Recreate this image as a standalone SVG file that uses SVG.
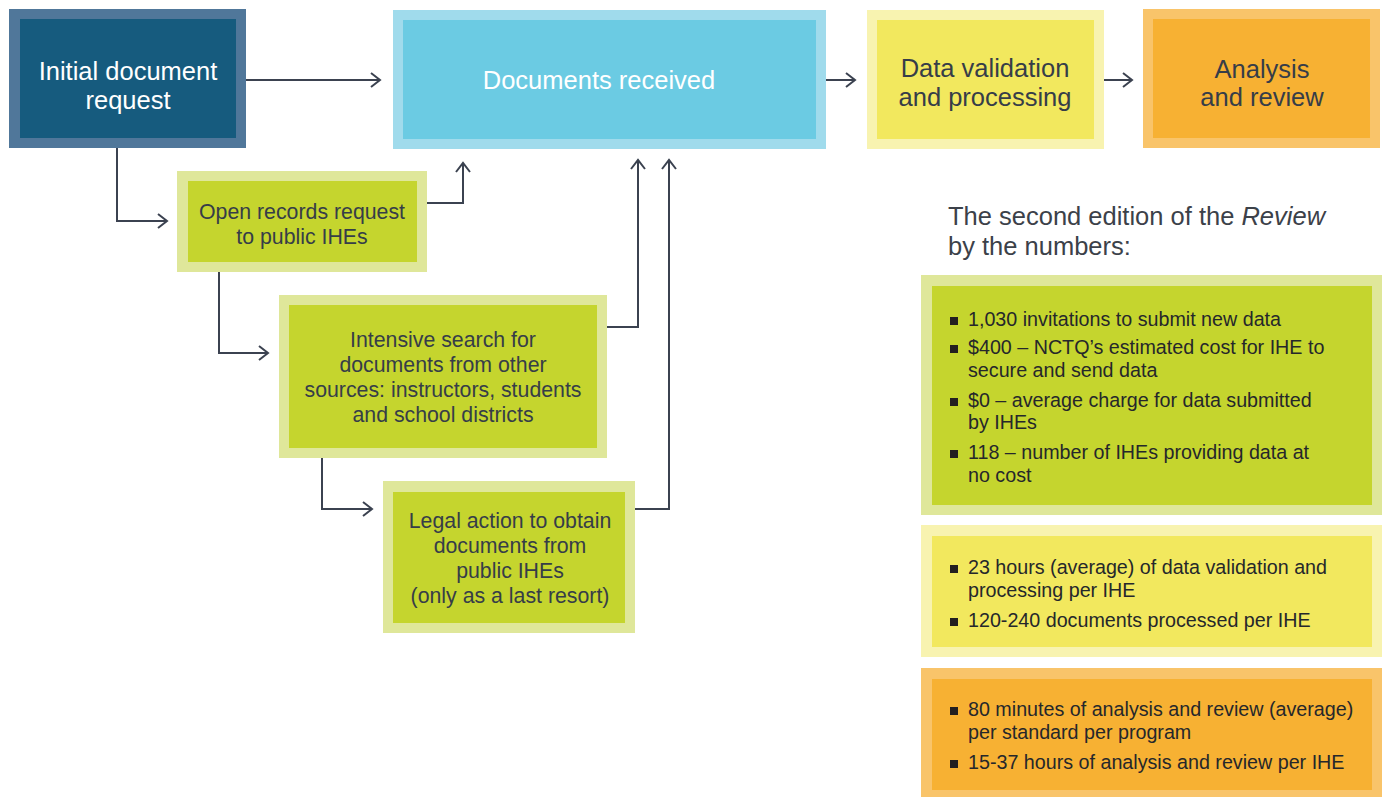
<svg xmlns="http://www.w3.org/2000/svg" width="1382" height="797" viewBox="0 0 1382 797">
<style>
text{font-family:"Liberation Sans",Arial,sans-serif;}
.big{font-size:25.5px;text-anchor:middle;}
.mid{font-size:21.3px;text-anchor:middle;fill:#363d48;}
.w{fill:#ffffff;}
.dk{fill:#363d48;}
.st{font-size:19.7px;fill:#25272b;}
.hd{font-size:25.5px;fill:#3c4149;}
.bul{fill:#231f20;}
.conn{fill:none;stroke:#3b4250;stroke-width:2;}
.gO{fill:#dfe79a;}.gI{fill:#c5d52e;}
.yO{fill:#f8f3b0;}.yI{fill:#f2e85e;}
.oO{fill:#f9c46a;}.oI{fill:#f7b133;}
</style>
<defs>
<marker id="arr" markerUnits="userSpaceOnUse" markerWidth="14" markerHeight="18" refX="10" refY="8" orient="auto">
<path d="M1,1 L10,8 L1,15" fill="none" stroke="#3b4250" stroke-width="2"/>
</marker>
</defs>
<rect width="1382" height="797" fill="#ffffff"/>

<g id="connectors">
<path class="conn" d="M246,80 H380" marker-end="url(#arr)"/>
<path class="conn" d="M826,80 H855" marker-end="url(#arr)"/>
<path class="conn" d="M1104,80 H1132" marker-end="url(#arr)"/>
<path class="conn" d="M117,148 V221 H167" marker-end="url(#arr)"/>
<path class="conn" d="M427,203 H463 V163" marker-end="url(#arr)"/>
<path class="conn" d="M219,272 V353 H268" marker-end="url(#arr)"/>
<path class="conn" d="M607,327 H638 V160" marker-end="url(#arr)"/>
<path class="conn" d="M322,458 V509 H372" marker-end="url(#arr)"/>
<path class="conn" d="M635,509 H669 V160" marker-end="url(#arr)"/>
</g>

<g id="initial-request">
<rect x="9" y="9" width="237" height="139" fill="#50779a"/>
<rect x="20" y="19" width="216" height="119" fill="#165b7e"/>
<text class="big w" x="128" y="80">Initial document</text>
<text class="big w" x="128" y="109">request</text>
</g>

<g id="documents-received">
<rect x="393" y="10" width="433" height="139" fill="#a0dbec"/>
<rect x="403" y="20" width="413" height="119" fill="#6bcbe3"/>
<text class="big w" x="599" y="89">Documents received</text>
</g>

<g id="data-validation">
<rect x="867" y="10" width="237" height="139" class="yO"/>
<rect x="877" y="20" width="217" height="119" class="yI"/>
<text class="big dk" x="985" y="77">Data validation</text>
<text class="big dk" x="985" y="106">and processing</text>
</g>

<g id="analysis-review">
<rect x="1143" y="9" width="237" height="139" class="oO"/>
<rect x="1153" y="19" width="217" height="119" class="oI"/>
<text class="big dk" x="1262" y="78">Analysis</text>
<text class="big dk" x="1262" y="106">and review</text>
</g>

<g id="open-records">
<rect x="177" y="171" width="250" height="101" class="gO"/>
<rect x="188" y="181" width="229" height="81" class="gI"/>
<text class="mid" x="302" y="219">Open records request</text>
<text class="mid" x="302" y="244">to public IHEs</text>
</g>

<g id="intensive-search">
<rect x="279" y="295" width="328" height="163" class="gO"/>
<rect x="289" y="305" width="308" height="143" class="gI"/>
<text class="mid" x="443" y="347">Intensive search for</text>
<text class="mid" x="443" y="372">documents from other</text>
<text class="mid" x="443" y="397">sources: instructors, students</text>
<text class="mid" x="443" y="422">and school districts</text>
</g>

<g id="legal-action">
<rect x="383" y="481" width="252" height="152" class="gO"/>
<rect x="393" y="492" width="232" height="131" class="gI"/>
<text class="mid" x="510" y="528">Legal action to obtain</text>
<text class="mid" x="510" y="553">documents from</text>
<text class="mid" x="510" y="578">public IHEs</text>
<text class="mid" x="510" y="603">(only as a last resort)</text>
</g>

<g id="stats-heading">
<text class="hd" x="948" y="225">The second edition of the <tspan font-style="italic">Review</tspan></text>
<text class="hd" x="948" y="255">by the numbers:</text>
</g>

<g id="stats-green">
<rect x="921" y="275" width="461" height="240" class="gO"/>
<rect x="932" y="286" width="440" height="219" class="gI"/>
<rect class="bul" x="950" y="317" width="8" height="8"/>
<text class="st" x="968" y="326">1,030 invitations to submit new data</text>
<rect class="bul" x="950" y="345" width="8" height="8"/>
<text class="st" x="968" y="354">$400 – NCTQ’s estimated cost for IHE to</text>
<text class="st" x="968" y="377">secure and send data</text>
<rect class="bul" x="950" y="398" width="8" height="8"/>
<text class="st" x="968" y="407">$0 – average charge for data submitted</text>
<text class="st" x="968" y="429">by IHEs</text>
<rect class="bul" x="950" y="450" width="8" height="8"/>
<text class="st" x="968" y="459">118 – number of IHEs providing data at</text>
<text class="st" x="968" y="482">no cost</text>
</g>

<g id="stats-yellow">
<rect x="921" y="525" width="461" height="132" class="yO"/>
<rect x="932" y="536" width="440" height="111" class="yI"/>
<rect class="bul" x="950" y="565" width="8" height="8"/>
<text class="st" x="968" y="574">23 hours (average) of data validation and</text>
<text class="st" x="968" y="597">processing per IHE</text>
<rect class="bul" x="950" y="618" width="8" height="8"/>
<text class="st" x="968" y="627">120-240 documents processed per IHE</text>
</g>

<g id="stats-orange">
<rect x="921" y="668" width="461" height="129" class="oO"/>
<rect x="932" y="679" width="440" height="111" class="oI"/>
<rect class="bul" x="950" y="707" width="8" height="8"/>
<text class="st" x="968" y="716">80 minutes of analysis and review (average)</text>
<text class="st" x="968" y="739">per standard per program</text>
<rect class="bul" x="950" y="760" width="8" height="8"/>
<text class="st" x="968" y="769">15-37 hours of analysis and review per IHE</text>
</g>
</svg>
